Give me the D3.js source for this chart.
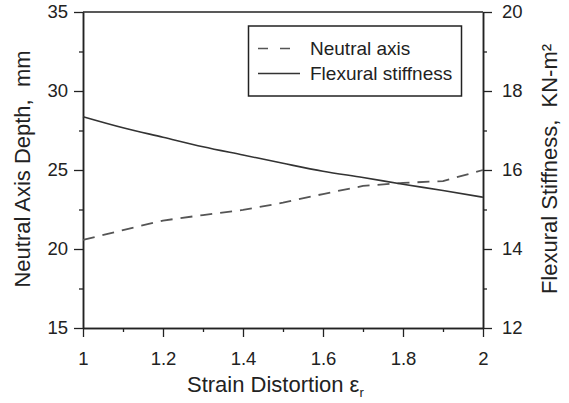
<!DOCTYPE html>
<html>
<head>
<meta charset="utf-8">
<script src="https://cdn.jsdelivr.net/npm/d3@7"></script>
<style>
  body { margin: 0; background: #fff; }
  svg { display: block; font-family: Arial, "Liberation Sans", sans-serif; }
</style>
</head>
<body>
<div id="chart"></div>
<script>
// strain distortion values (x)
var strainDistortion = [1.0, 1.1, 1.2, 1.3, 1.4, 1.5, 1.6, 1.7, 1.8, 1.9, 2.0];
// neutral axis depth, mm (left axis)
var neutralAxis = [20.57, 21.2, 21.8, 22.15, 22.47, 22.93, 23.48, 23.99, 24.18, 24.3, 25.0];
// flexural stiffness, KN-m^2 (right axis)
var flexuralStiffness = [17.35, 17.07, 16.83, 16.59, 16.38, 16.17, 15.97, 15.81, 15.64, 15.48, 15.31];

var xTicks = [1, 1.2, 1.4, 1.6, 1.8, 2];
var xMinorTicks = [1.1, 1.3, 1.5, 1.7, 1.9];
var leftTicks = [15, 20, 25, 30, 35];
var leftMinorTicks = [17.5, 22.5, 27.5, 32.5];
var rightTicks = [12, 14, 16, 18, 20];
var rightMinorTicks = [13, 15, 17, 19];
var legendLabels = ["Neutral axis", "Flexural stiffness"];

var W = 569, H = 403;
var margin = {top: 12, right: 86, bottom: 75, left: 83};
var width = W - margin.left - margin.right,
    height = H - margin.top - margin.bottom;

var ink = "#222";

var svg = d3.select("#chart")
  .append("svg")
    .attr("width", W)
    .attr("height", H);

var g = svg.append("g")
    .attr("transform", "translate(" + margin.left + "," + margin.top + ")");

var x = d3.scaleLinear().domain([1, 2]).range([0, width]);
var yL = d3.scaleLinear().domain([15, 35]).range([height, 0]);
var yR = d3.scaleLinear().domain([12, 20]).range([height, 0]);

// styling helper for axes
function styleAxis(sel, size) {
  sel.select(".domain").attr("stroke", ink).attr("stroke-width", 1.5);
  sel.selectAll(".tick line").attr("stroke", ink).attr("stroke-width", 1.3);
  sel.selectAll(".tick text")
    .attr("fill", ink)
    .style("font-size", size + "px");
}

// minor ticks first
g.append("g")
  .attr("transform", "translate(0," + height + ")")
  .call(d3.axisBottom(x).tickValues(xMinorTicks).tickSize(4).tickSizeOuter(0).tickFormat(""))
  .call(styleAxis, 18.5);
g.append("g")
  .call(d3.axisLeft(yL).tickValues(leftMinorTicks).tickSize(4).tickSizeOuter(0).tickFormat(""))
  .call(styleAxis, 18.5);
g.append("g")
  .attr("transform", "translate(" + width + ",0)")
  .call(d3.axisRight(yR).tickValues(rightMinorTicks).tickSize(4).tickSizeOuter(0).tickFormat(""))
  .call(styleAxis, 18.5);

// major ticks
g.append("g")
  .attr("transform", "translate(0," + height + ")")
  .call(d3.axisBottom(x).tickValues(xTicks).tickSize(9).tickPadding(15).tickSizeOuter(0).tickFormat(d3.format("")))
  .call(styleAxis, 18.5);
g.append("g")
  .call(d3.axisLeft(yL).tickValues(leftTicks).tickSize(9).tickPadding(6).tickSizeOuter(0))
  .call(styleAxis, 18.5);
g.append("g")
  .attr("transform", "translate(" + width + ",0)")
  .call(d3.axisRight(yR).tickValues(rightTicks).tickSize(9).tickPadding(10).tickSizeOuter(0))
  .call(styleAxis, 18.5);

// top border
g.append("line")
  .attr("x1", 0).attr("x2", width)
  .attr("y1", 0).attr("y2", 0)
  .attr("stroke", ink)
  .attr("stroke-width", 1.5);

// data lines
var lineL = d3.line()
  .x(function(d, i) { return x(strainDistortion[i]); })
  .y(function(d) { return yL(d); });
var lineR = d3.line()
  .x(function(d, i) { return x(strainDistortion[i]); })
  .y(function(d) { return yR(d); })
  .curve(d3.curveMonotoneX);

g.append("path")
  .datum(neutralAxis)
  .attr("d", lineL)
  .attr("fill", "none")
  .attr("stroke", "#555")
  .attr("stroke-width", 1.8)
  .attr("stroke-dasharray", "12,8");

g.append("path")
  .datum(flexuralStiffness)
  .attr("d", lineR)
  .attr("fill", "none")
  .attr("stroke", "#333")
  .attr("stroke-width", 1.6);

// legend
var legend = svg.append("g");
legend.append("rect")
  .attr("x", 248.5).attr("y", 26)
  .attr("width", 213).attr("height", 70)
  .attr("fill", "#fff")
  .attr("stroke", ink)
  .attr("stroke-width", 1.5);

legendLabels.forEach(function(label, i) {
  var ly = 48.5 + i * 25;
  legend.append("line")
    .attr("x1", 258).attr("x2", 300)
    .attr("y1", ly).attr("y2", ly)
    .attr("stroke", i === 0 ? "#555" : "#333")
    .attr("stroke-width", 1.6)
    .attr("stroke-dasharray", i === 0 ? "10,12" : null);
  legend.append("text")
    .attr("x", 310).attr("y", ly + 6.5)
    .attr("fill", ink)
    .style("font-size", "19px")
    .text(label);
});

// axis titles
svg.append("text")
  .attr("transform", "translate(30,169) rotate(-90)")
  .attr("text-anchor", "middle")
  .attr("fill", ink)
  .style("font-size", "22px")
  .text("Neutral Axis Depth,\u00a0 mm");

svg.append("text")
  .attr("transform", "translate(557,169) rotate(-90)")
  .attr("text-anchor", "middle")
  .attr("fill", ink)
  .style("font-size", "22px")
  .text("Flexural Stiffness,\u00a0 KN-m\u00b2");

var xt = svg.append("text")
  .attr("x", 187).attr("y", 392)
  .attr("fill", ink)
  .style("font-size", "22px");
xt.append("tspan").text("Strain Distortion \u03b5");
xt.append("tspan")
  .attr("dy", 5)
  .style("font-size", "13px")
  .text("r");
</script>
</body>
</html>
